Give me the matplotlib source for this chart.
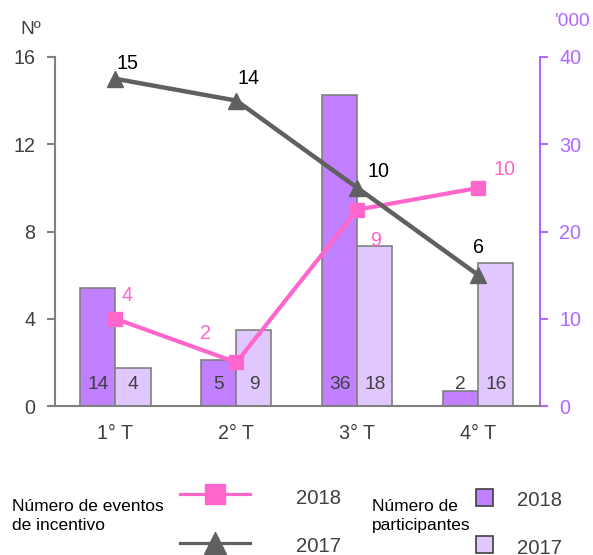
import numpy as np
import matplotlib
matplotlib.use('Agg')
import matplotlib.pyplot as plt
from matplotlib import font_manager
from matplotlib.lines import Line2D
from matplotlib.patches import Rectangle

# the chart uses a narrow sans; fall back to the normal one (a bit smaller) if missing
names = set(f.name for f in font_manager.fontManager.ttflist)
if 'Liberation Sans Narrow' in names:
    plt.rcParams['font.family'] = ['Liberation Sans Narrow', 'DejaVu Sans']
    k = 1.0
else:
    plt.rcParams['font.family'] = ['Liberation Sans', 'DejaVu Sans']
    k = 0.86

# data
quarters = ['1° T', '2° T', '3° T', '4° T']
eventos_2018 = [4, 2, 9, 10]
eventos_2017 = [15, 14, 10, 6]
particip_2018 = [13.5, 5.3, 35.6, 1.7]   # miles
particip_2017 = [4.4, 8.7, 18.3, 16.4]
left_ticks = [0, 4, 8, 12, 16]
right_ticks = [0, 10, 20, 30, 40]
years = ['2018', '2017']

pink = '#FF66CC'
dgray = '#606060'
purple = '#C080FF'
lilac = '#E0C8FF'
axpurple = '#B266FF'
edge = '#808080'
txt = '#404040'

W, H = 593, 555
fig = plt.figure(figsize=(W / 100, H / 100), dpi=100)
ax = fig.add_axes([55 / W, 1 - 406 / H, 485 / W, 349 / H])
ax2 = ax.twinx()
ax.set_zorder(ax2.get_zorder() + 1)
ax.patch.set_visible(False)

x = np.arange(len(quarters))
w = 0.29
ax2.bar(x - w / 2, particip_2018, w, color=purple, edgecolor=edge, linewidth=1.2)
ax2.bar(x + w / 2, particip_2017, w, color=lilac, edgecolor=edge, linewidth=1.2)
for xi, v in zip(x, particip_2018):
    ax2.text(xi - w / 2, 2.5, '%.0f' % v, ha='center', va='center', fontsize=16 * k, color=txt)
for xi, v in zip(x, particip_2017):
    ax2.text(xi + w / 2, 2.5, '%.0f' % v, ha='center', va='center', fontsize=16 * k, color=txt)

ax.plot(x, eventos_2018, color=pink, lw=3, marker='s', ms=10, zorder=3)
ax.plot(x, eventos_2017, color=dgray, lw=3.2, marker='^', ms=12, zorder=3)

# line labels
off18 = [(8, 17), (-22, 21), (13, -22), (19, 13)]
for xi, v, o in zip(x, eventos_2018, off18):
    ax.annotate('%d' % v, (xi, v), xytext=o, textcoords='offset points',
                ha='center', va='center', fontsize=16.5 * k, color=pink)
off17 = [(9, 11), (9, 16), (15, 12), (0, 20)]
for xi, v, o in zip(x, eventos_2017, off17):
    ax.annotate('%d' % v, (xi, v), xytext=o, textcoords='offset points',
                ha='center', va='center', fontsize=16.5 * k, color='black')

ax.set_xlim(-0.5, 3.51)
ax.set_ylim(0, 16)
ax2.set_ylim(0, 40)
ax.set_yticks(left_ticks)
ax2.set_yticks(right_ticks)
ax.set_xticks(x)
ax.set_xticklabels(quarters)
ax.tick_params(axis='x', length=0, labelsize=16.5 * k, colors=txt, pad=13)
ax.tick_params(axis='y', direction='out', length=6, width=1.5, colors=edge,
               labelcolor=txt, labelsize=16.5 * k, pad=8)
ax2.tick_params(axis='y', direction='out', length=6, width=1.5, colors=axpurple,
                labelcolor=axpurple, labelsize=16.5 * k, pad=8)
for s in ['top', 'right']:
    ax.spines[s].set_visible(False)
for s in ['left', 'bottom']:
    ax.spines[s].set_color(edge)
    ax.spines[s].set_linewidth(1.5)
for s in ['top', 'left', 'bottom']:
    ax2.spines[s].set_visible(False)
ax2.spines['right'].set_color(axpurple)
ax2.spines['right'].set_linewidth(1.5)


def fx(px):
    return px / W


def fy(py):
    return 1 - py / H


fig.text(fx(20), fy(29), 'Nº', fontsize=16 * k, color=txt, ha='left', va='center')
fig.text(fx(590), fy(22), "'000", fontsize=16 * k, color=axpurple, ha='right', va='center')

# legend (drawn by hand to follow the original layout)
fig.text(fx(12), fy(516), 'Número de eventos\nde incentivo', fontsize=15 * k * 0.97, ha='left',
         va='center', linespacing=1.3, color='black')
fig.text(fx(372), fy(516), 'Número de\nparticipantes', fontsize=15 * k * 0.97, ha='left',
         va='center', linespacing=1.3, color='black')
line_keys = [(pink, 's', 15, 494), (dgray, '^', 16, 543)]
for (c, m, ms, py), yr, ty in zip(line_keys, years, [498, 547]):
    fig.add_artist(Line2D([fx(180), fx(250)], [fy(py), fy(py)], color=c, lw=2.3,
                          transform=fig.transFigure))
    fig.add_artist(Line2D([fx(215)], [fy(py)], color=c, marker=m, ms=ms, mec=c,
                          transform=fig.transFigure))
    fig.text(fx(296), fy(ty), yr, fontsize=17 * k, ha='left', va='center', color=txt)
for c, py, yr, ty in zip([purple, lilac], [489, 536], years, [500, 548]):
    fig.add_artist(Rectangle((fx(476), fy(py + 17)), fx(17), 17 / H, facecolor=c,
                             edgecolor=txt, lw=1.2, transform=fig.transFigure))
    fig.text(fx(517), fy(ty), yr, fontsize=17 * k, ha='left', va='center', color=txt)

fig.savefig('out.png', dpi=100)
